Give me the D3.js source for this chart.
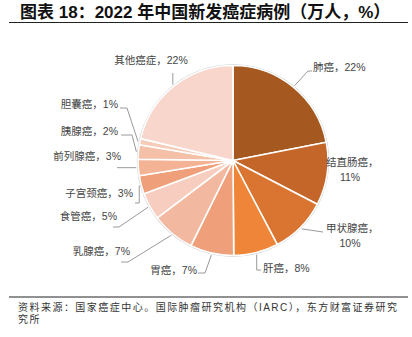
<!DOCTYPE html>
<html><head><meta charset="utf-8">
<script src="https://cdn.jsdelivr.net/npm/d3@7"></script>
<style>
html,body{margin:0;padding:0;background:#fff;}
svg{display:block;}
</style></head>
<body>
<script>
// ---- data ----
const categories = ["肺癌","结直肠癌","甲状腺癌","肝癌","胃癌","乳腺癌","食管癌","子宫颈癌","前列腺癌","胰腺癌","胆囊癌","其他癌症"];
const cases = [106.06, 51.71, 46.61, 36.77, 35.87, 35.72, 22.40, 15.07, 13.42, 11.87, 5.0, 103.0]; // 万人
const pctLabels = ["22%","11%","10%","8%","7%","7%","5%","3%","3%","2%","1%","22%"];
const colors = ["#A5581F","#C4662A","#DA7431","#EE8538","#EFA07B","#F3B8A0","#F7CDBF","#EFA07A","#F3B394","#F4C0A8","#F6CBB8","#F8D6CB"];

const title = "图表 18：2022 年中国新发癌症病例（万人，%）";
const source1 = "资料来源：国家癌症中心。国际肿瘤研究机构（IARC），东方财富证券研究";
const source2 = "究所";

// ---- layout (label placement) ----
const W = 412, H = 337;
const cx = 233, cy = 160.5, R = 95;
const layout = {
  "肺癌":   {x:313, y:67, anchor:"start", two:false, leader:[[308,71],[312,71]]},
  "结直肠癌":{x:326, y:162, anchor:"start", two:true, leader:[]},
  "甲状腺癌":{x:326, y:228, anchor:"start", two:true, leader:[[323,232]]},
  "肝癌":   {x:263, y:268, anchor:"start", two:false, leader:[[256,270],[261,270]], vert:true},
  "胃癌":   {x:197, y:270, anchor:"end", two:false, leader:[[205,273],[198,273]]},
  "乳腺癌": {x:130, y:251, anchor:"end", two:false, leader:[[128,262],[121,262]]},
  "食管癌": {x:117, y:216, anchor:"end", two:false, leader:[[119,227],[113,227]]},
  "子宫颈癌":{x:133, y:193, anchor:"end", two:false, leader:[[139,203],[135,203]], vert:true},
  "前列腺癌":{x:121, y:156, anchor:"end", two:false, leader:[[117,167]], horiz:true},
  "胰腺癌": {x:118, y:131, anchor:"end", two:false, leader:[[132,135],[121,135]]},
  "胆囊癌": {x:118, y:104, anchor:"end", two:false, leader:[[127,108],[120,108]]},
  "其他癌症":{x:151, y:60, anchor:"middle", two:false, leader:[[0,73]], vert:true}
};

const svg = d3.select("body").append("svg").attr("width", W).attr("height", H);
const latinCJK = "'Liberation Sans', Arial, 'Noto Sans CJK SC', sans-serif";

// title
svg.append("text").attr("x", 20).attr("y", 12).attr("dominant-baseline","central")
  .attr("font-family", latinCJK).attr("font-weight","bold").attr("font-size", 17).attr("fill","#111")
  .text(title);
svg.append("line").attr("x1",9).attr("x2",408).attr("y1",22.5).attr("y2",22.5).attr("stroke","#222").attr("stroke-width",1.2);

// pie
const data = categories.map((c,i)=>({name:c, value:cases[i], pct:pctLabels[i], color:colors[i]}));
const pie = d3.pie().value(d=>d.value).sort(null).startAngle(0).endAngle(2*Math.PI);
const arcs = pie(data);
const arc = d3.arc().innerRadius(0).outerRadius(R);
const g = svg.append("g").attr("transform", `translate(${cx},${cy})`);
g.append("circle").attr("r", R+0.6).attr("fill","none").attr("stroke","#c9c9c9").attr("stroke-width",1.2);
g.selectAll("path.slice").data(arcs).join("path").attr("class","slice")
  .attr("d", arc).attr("fill", d=>d.data.color).attr("stroke","#fff").attr("stroke-width",1.6).attr("stroke-linejoin","round");

// leaders and labels
const lab = svg.append("g").attr("font-family", latinCJK).attr("font-size", 10.5).attr("fill","#444");
arcs.forEach(a=>{
  const L = layout[a.data.name];
  const mid = (a.startAngle + a.endAngle)/2;
  const sx = cx + (R+2)*Math.sin(mid), sy = cy - (R+2)*Math.cos(mid);
  if (L.leader.length){
    let pts = [[sx,sy]];
    L.leader.forEach(p=>{
      let px = p[0], py = p[1];
      if (L.vert && pts.length===1) px = sx;
      if (L.horiz) py = sy;
      pts.push([px,py]);
    });
    lab.append("path").attr("d", d3.line()(pts)).attr("fill","none").attr("stroke","#9a9a9a").attr("stroke-width",1);
  }
  if (L.two){
    lab.append("text").attr("x",L.x).attr("y",L.y).attr("dominant-baseline","central").attr("text-anchor","start").text(a.data.name+"，");
    lab.append("text").attr("x",L.x+24).attr("y",L.y+15).attr("dominant-baseline","central").attr("text-anchor","middle").text(a.data.pct);
  } else {
    lab.append("text").attr("x",L.x).attr("y",L.y).attr("dominant-baseline","central").attr("text-anchor",L.anchor).text(a.data.name+"，"+a.data.pct);
  }
});

// source
svg.append("line").attr("x1",9).attr("x2",408).attr("y1",297).attr("y2",297).attr("stroke","#222").attr("stroke-width",1);
const src = svg.append("g").attr("font-family", latinCJK).attr("font-size", 10).attr("fill","#333");
src.append("text").attr("x",18).attr("y",307.5).attr("dominant-baseline","central").attr("textLength",379).attr("lengthAdjust","spacing").text(source1);
src.append("text").attr("x",18).attr("y",319).attr("dominant-baseline","central").attr("letter-spacing",1.5).text(source2);
</script>
</body></html>
